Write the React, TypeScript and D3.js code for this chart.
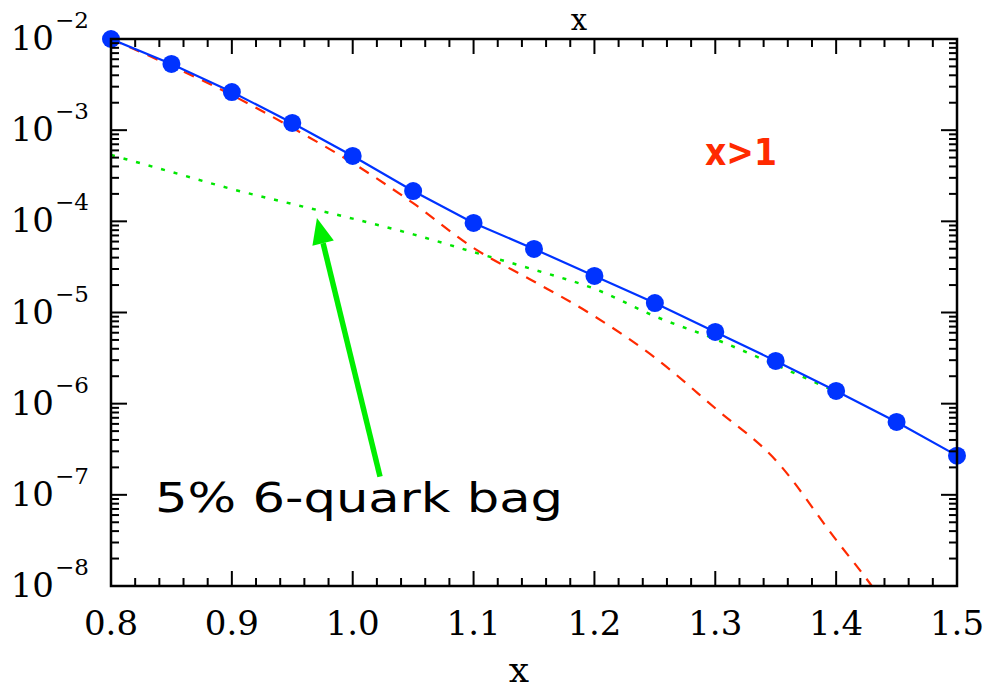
import React from "react";
import * as d3 from "d3";

const W = 985;
const H = 689;

const fullX = [0.8, 0.85, 0.9, 0.95, 1.0, 1.05, 1.1, 1.15, 1.2, 1.25, 1.3, 1.35, 1.4, 1.45, 1.5];
const totalY = [1.0e-2, 5.32e-3, 2.62e-3, 1.2e-3, 5.21e-4, 2.15e-4, 9.6e-5, 4.98e-5, 2.52e-5, 1.27e-5, 6.12e-6, 2.94e-6, 1.38e-6, 6.3e-7, 2.69e-7];

const nucleonX = [0.8, 0.85, 0.9, 0.95, 1.0, 1.05, 1.1, 1.15, 1.2, 1.25, 1.3, 1.35, 1.4, 1.43, 1.46];
const nucleonY = [1.0e-2, 5.06e-3, 2.43e-3, 1.06e-3, 4.36e-4, 1.58e-4, 5.1e-5, 2.19e-5, 9.1e-6, 3.2e-6, 8.9e-7, 2.4e-7, 3.2e-8, 9.8e-9, 2.5e-9];

const bagX = [0.8, 0.85, 0.9, 0.95, 1.0, 1.05, 1.1, 1.15, 1.2, 1.25, 1.3, 1.35, 1.4];
const bagY = [5.35e-4, 3.48e-4, 2.26e-4, 1.55e-4, 1.07e-4, 7.2e-5, 4.6e-5, 2.95e-5, 1.82e-5, 9.1e-6, 5.1e-6, 2.66e-6, 1.35e-6];

const xMajorTicks = [0.8, 0.9, 1.0, 1.1, 1.2, 1.3, 1.4, 1.5];
const xTickLabels = ["0.8", "0.9", "1.0", "1.1", "1.2", "1.3", "1.4", "1.5"];
const yDecades = [-8, -7, -6, -5, -4, -3, -2];

const annotationText = "5% 6-quark bag";
const regionText = "x>1";
const axisTitle = "x";

const left = 111, right = 957, top = 39, bottom = 586;

export default function App() {
  const x = d3.scaleLinear().domain([0.8, 1.5]).range([left, right]);
  const y = d3.scaleLog().domain([1e-8, 1e-2]).range([bottom, top]);

  const smooth = d3
    .line<[number, number]>()
    .x((d) => x(d[0]))
    .y((d) => y(d[1]))
    .curve(d3.curveMonotoneX);
  const straight = d3
    .line<[number, number]>()
    .x((d) => x(d[0]))
    .y((d) => y(d[1]));

  const totalPts: [number, number][] = fullX.map((v, i) => [v, totalY[i]]);
  const nucPts: [number, number][] = nucleonX.map((v, i) => [v, nucleonY[i]]);
  const bagPts: [number, number][] = bagX.map((v, i) => [v, bagY[i]]);

  const xMinor = d3.range(0, 36).map((i) => 0.8 + i * 0.02).filter((v) => v <= 1.5001);
  const yMinor: number[] = [];
  for (const e of yDecades.slice(0, -1)) {
    for (let m = 2; m <= 9; m++) yMinor.push(m * Math.pow(10, e));
  }

  const tickColor = "#000";

  // arrow
  const ax0 = x(1.0226), ay0 = y(1.58e-7);
  const ax1 = x(0.9704), ay1 = y(1.09e-4);
  const ang = Math.atan2(ay1 - ay0, ax1 - ax0);
  const headLen = 26, headW = 11;
  const bx = ax1 - headLen * Math.cos(ang), by = ay1 - headLen * Math.sin(ang);
  const px = -Math.sin(ang), py = Math.cos(ang);
  const head = `M${ax1},${ay1} L${bx + px * headW},${by + py * headW} L${bx - px * headW},${by - py * headW} Z`;

  const serif = "'DejaVu Serif', 'Liberation Serif', serif";
  const comic = "'Comic Sans MS', 'DejaVu Sans', 'Noto Sans', sans-serif";

  return (
    <svg width={W} height={H} style={{ position: "absolute", left: 0, top: 0, background: "#fff" }}>
      <defs>
        <clipPath id="plotclip">
          <rect x={left} y={top - 12} width={right - left + 12} height={bottom - top + 12} />
        </clipPath>
      </defs>
      <rect x={0} y={0} width={W} height={H} fill="#fff" />

      {/* curves */}
      <g clipPath="url(#plotclip)">
        <path d={smooth(bagPts) || ""} fill="none" stroke="#00e600" strokeWidth={2.5} strokeDasharray="4 9" />
        <path d={smooth(nucPts) || ""} fill="none" stroke="#ff2a00" strokeWidth={2.2} strokeDasharray="11 9" />
        <path d={straight(totalPts) || ""} fill="none" stroke="#0033ff" strokeWidth={2.2} />
      </g>
      {totalPts.map((p, i) => (
        <circle key={i} cx={x(p[0])} cy={y(p[1])} r={9} fill="#0033ff" />
      ))}

      {/* frame */}
      <rect x={left} y={top} width={right - left} height={bottom - top} fill="none" stroke="#000" strokeWidth={2.5} />

      {/* x ticks */}
      {xMinor.map((v, i) => {
        const isMajor = Math.abs(Math.round(v * 10) - v * 10) < 1e-6;
        const len = isMajor ? 15 : 8;
        return (
          <g key={i} stroke={tickColor} strokeWidth={2}>
            <line x1={x(v)} x2={x(v)} y1={bottom} y2={bottom - len} />
            <line x1={x(v)} x2={x(v)} y1={top} y2={top + len} />
          </g>
        );
      })}
      {/* y ticks */}
      {yDecades.map((e) => (
        <g key={e} stroke={tickColor} strokeWidth={2}>
          <line x1={left} x2={left + 16} y1={y(Math.pow(10, e))} y2={y(Math.pow(10, e))} />
          <line x1={right} x2={right - 16} y1={y(Math.pow(10, e))} y2={y(Math.pow(10, e))} />
        </g>
      ))}
      {yMinor.map((v, i) => (
        <g key={i} stroke={tickColor} strokeWidth={2}>
          <line x1={left} x2={left + 8} y1={y(v)} y2={y(v)} />
          <line x1={right} x2={right - 8} y1={y(v)} y2={y(v)} />
        </g>
      ))}

      {/* x tick labels */}
      {xMajorTicks.map((v, i) => (
        <text key={i} x={x(v)} y={bottom + 49} textAnchor="middle" fontFamily={serif} fontSize={34} fill="#000">
          {xTickLabels[i]}
        </text>
      ))}
      {/* y tick labels */}
      {yDecades.map((e) => (
        <g key={e}>
          <text x={54} y={y(Math.pow(10, e)) + 11} textAnchor="end" fontFamily={serif} fontSize={34} fill="#000">
            10
          </text>
          <text x={55} y={y(Math.pow(10, e)) - 11} textAnchor="start" fontFamily={serif} fontSize={23} fill="#000">
            {"\u2212" + Math.abs(e)}
          </text>
        </g>
      ))}

      {/* axis titles */}
      <text x={519} y={682} textAnchor="middle" fontFamily={serif} fontSize={36} fill="#000">
        {axisTitle}
      </text>
      <text x={579} y={30} textAnchor="middle" fontFamily={serif} fontSize={29} fill="#000">
        {axisTitle}
      </text>

      {/* annotations */}
      <text x={705} y={165} fontFamily={comic} fontSize={38} fontWeight={600} fill="#ff2a00" textLength={72} lengthAdjust="spacingAndGlyphs">
        {regionText}
      </text>
      <line x1={ax0} y1={ay0} x2={bx} y2={by} stroke="#00ee00" strokeWidth={5.5} />
      <path d={head} fill="#00ee00" />
      <text x={155} y={512} fontFamily={comic} fontSize={40} fill="#000" textLength={408} lengthAdjust="spacingAndGlyphs">
        {annotationText}
      </text>
    </svg>
  );
}
